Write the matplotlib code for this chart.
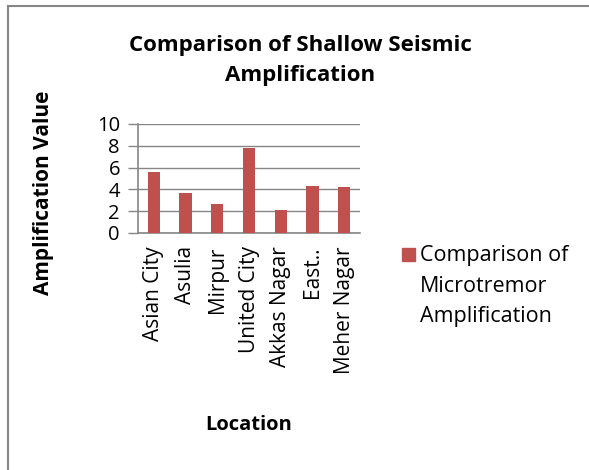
import matplotlib.pyplot as plt
from matplotlib.lines import Line2D
from matplotlib.patches import Rectangle
import numpy as np

plt.rcParams['font.family'] = ['Open Sans', 'DejaVu Sans']

locations = ['Asian City', 'Asulia', 'Mirpur', 'United City', 'Akkas Nagar', 'East..', 'Meher Nagar']
amplification = [5.6, 3.7, 2.7, 7.8, 2.1, 4.3, 4.2]
series_name = 'Comparison of\nMicrotremor\nAmplification'
bar_color = '#C0504D'
grey = '#868686'

W, H = 589, 470
fig = plt.figure(figsize=(W / 100, H / 100), dpi=100)
ax = fig.add_axes([138 / W, 1 - 233 / H, 222 / W, 109 / H])

x = np.arange(len(locations))
ax.bar(x, amplification, width=0.39, color=bar_color, zorder=3)
ax.set_xlim(-0.5, len(locations) - 0.5)
ax.set_ylim(0, 10)
ax.set_yticks(range(0, 11, 2))
ax.set_xticks(x)
ax.set_xticklabels(locations, rotation=90, fontsize=15)
ax.tick_params(axis='y', labelsize=14.5, length=7, color=grey, width=1, pad=6)
ax.tick_params(axis='x', length=0, pad=9.5)

ax.grid(axis='y', color=grey, linewidth=1, zorder=0)
for side in ['top', 'right']:
    ax.spines[side].set_visible(False)
for side in ['left', 'bottom']:
    ax.spines[side].set_color(grey)
    ax.spines[side].set_linewidth(1.2)

fig.text(300 / W, 1 - 45 / H, 'Comparison of Shallow Seismic', ha='center', va='center',
         fontsize=16, fontweight='bold')
fig.text(300 / W, 1 - 75 / H, 'Amplification', ha='center', va='center',
         fontsize=16, fontweight='bold')
fig.text(44 / W, 1 - 193 / H, 'Amplification Value', rotation=90, ha='center', va='center',
         fontsize=15, fontweight='bold')
fig.text(249 / W, 1 - 425 / H, 'Location', ha='center', va='center',
         fontsize=14.5, fontweight='bold')

# legend: swatch next to the first line of the series name
fig.add_artist(Rectangle((402 / W, 1 - 261 / H), 13 / W, 13 / H, color=bar_color,
                         transform=fig.transFigure))
for i, line in enumerate(series_name.split('\n')):
    fig.text(420 / W, 1 - (261 + 30.5 * i) / H, line, ha='left', va='baseline', fontsize=15.5)

# chart frame (left and top edges only)
fig.add_artist(Line2D([8 / W, 8 / W], [0, 1 - 6 / H], color=grey, linewidth=1.5,
                      transform=fig.transFigure))
fig.add_artist(Line2D([8 / W, 1], [1 - 6 / H, 1 - 6 / H], color=grey, linewidth=1.5,
                      transform=fig.transFigure))

fig.savefig('out.png', dpi=100, facecolor='white')
